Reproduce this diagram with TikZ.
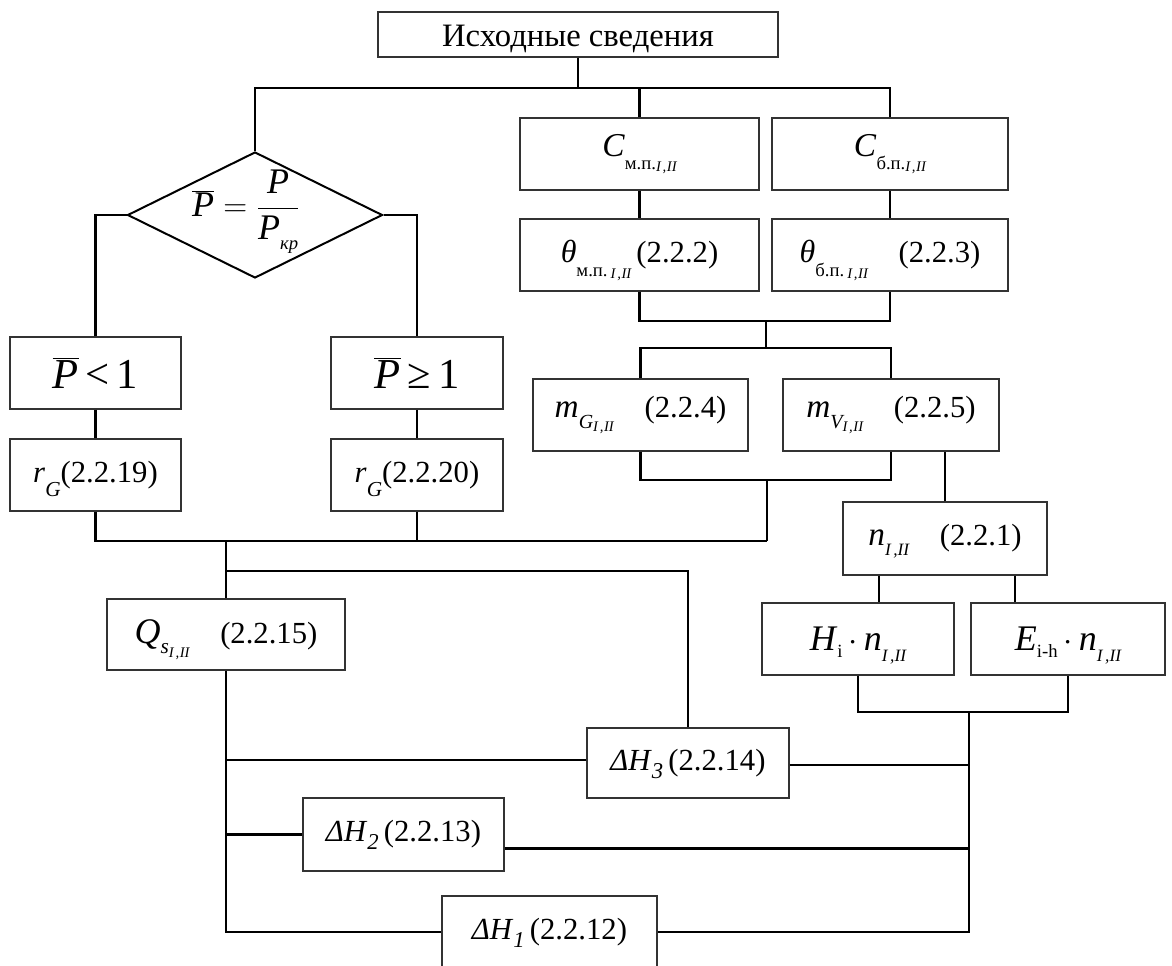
\documentclass[tikz,border=0pt]{standalone}
\usepackage{fontspec}
\setmainfont{Liberation Serif}
\usetikzlibrary{shapes.geometric,calc}
\newcommand{\ssz}{\fontsize{14}{15}\selectfont}
\newcommand{\sssz}{\fontsize{11}{12}\selectfont}
\newcommand{\III}{{\sssz\itshape I\kern0.12em,\kern0.04em II}}
\newcommand{\lowr}[2]{\raisebox{-#1}[0pt][0pt]{#2}}
\newcommand{\lowrd}[2]{\raisebox{-#1}{#2}}
\newcommand{\Pbar}{$\overline{\hbox{\itshape P}}$}
\begin{document}
\begin{tikzpicture}[x=0.75pt,y=-0.75pt,
  sz/.style 2 args={minimum width=#1*0.75pt,minimum height=#2*0.75pt},
  box/.style={draw=black!80,line width=1pt,inner sep=0pt,font=\fontsize{23}{26}\selectfont},
  ln/.style={line width=1.9pt}]
\useasboundingbox (0,0) rectangle (1172,965);

% nodes
\node[box,sz={400}{45},font=\fontsize{24.5}{27}\selectfont] (top) at (578,34.5) {\lowr{0.36em}{Исходные сведения}};
\node[draw=black,line width=1.5pt,diamond,inner sep=0pt,sz={255}{126}] (dia) at (255,215) {};
\node[inner sep=0pt,font=\fontsize{27}{30}\selectfont] (diaf) at (246,212)
  {$\overline{\hbox{\itshape P}}=\displaystyle\frac{\hbox{\itshape\ P\ }}{\hbox{\itshape P\lowrd{0.3em}{\ssz\itshape кр}}}$};
\node[box,sz={171}{72}] (Pl) at (95.5,373) {\fontsize{32}{34}\selectfont\Pbar\,<\,1};
\node[box,sz={172}{72}] (Pg) at (417,373) {\fontsize{32}{34}\selectfont\Pbar\,≥\,1};
\node[box,sz={171}{72}] (rg1) at (95.5,475) {\textit{r}\lowr{0.45em}{\fontsize{16}{17}\selectfont\itshape G}(2.2.19)};
\node[box,sz={172}{72}] (rg2) at (417,475) {\textit{r}\lowr{0.45em}{\fontsize{16}{17}\selectfont\itshape G}(2.2.20)};

\node[box,sz={239}{72}] (Cmp) at (639.5,154) {\fontsize{25}{27}\selectfont\textit{C}\lowrd{0.4em}{\ssz м.п.\lowrd{0.1em}{\III}}};
\node[box,sz={236}{72}] (Cbp) at (890,154) {\fontsize{25}{27}\selectfont\textit{C}\lowrd{0.4em}{\ssz б.п.\lowrd{0.1em}{\III}}};
\node[box,sz={239}{72}] (thmp) at (639.5,255) {{\fontsize{24}{26}\selectfont\textit{θ}}\lowr{0.45em}{\ssz м.п.\,\lowrd{0.1em}{\III}}\,(2.2.2)};
\node[box,sz={236}{72}] (thbp) at (890,255) {{\fontsize{24}{26}\selectfont\textit{θ}}\lowr{0.45em}{\ssz б.п.\,\lowrd{0.1em}{\III}}\quad(2.2.3)};

\node[box,sz={215}{72}] (mG) at (640.5,415) {{\fontsize{25}{27}\selectfont\textit{m}}\lowrd{0.35em}{\fontsize{15}{16}\selectfont\itshape G\lowrd{0.15em}{\III}}\quad(2.2.4)};
\node[box,sz={216}{72}] (mV) at (891,415) {{\fontsize{25}{27}\selectfont\textit{m}}\lowrd{0.35em}{\fontsize{15}{16}\selectfont\itshape V\lowrd{0.15em}{\III}}\quad(2.2.5)};

\node[box,sz={204}{73}] (n) at (945,538.5) {{\fontsize{25}{27}\selectfont\textit{n}}\lowr{0.3em}{\fontsize{13}{14}\selectfont\itshape I\kern0.15em,II}\quad(2.2.1)};
\node[box,sz={192}{72}] (H) at (858,639) {\fontsize{27}{29}\selectfont\textit{H}\lowr{0.2em}{\ssz i}\,$\cdot$\,\textit{n}\lowr{0.3em}{\fontsize{13}{14}\selectfont\itshape I\kern0.15em,II}};
\node[box,sz={194}{72}] (E) at (1068,639) {\fontsize{27}{29}\selectfont\textit{E}\lowr{0.2em}{\ssz i-h}\,$\cdot$\,\textit{n}\lowr{0.3em}{\fontsize{13}{14}\selectfont\itshape I\kern0.15em,II}};

\node[box,sz={238}{71}] (Q) at (226,634.5) {{\fontsize{27}{29}\selectfont\textit{Q}}\lowr{0.35em}{\fontsize{16}{17}\selectfont\itshape s\lowrd{0.15em}{\III}}\quad(2.2.15)};
\node[box,sz={202}{70}] (dH3) at (688,763) {\textit{ΔH}\lowr{0.25em}{\fontsize{17}{18}\selectfont\itshape 3}\,(2.2.14)};
\node[box,sz={201}{73}] (dH2) at (403.5,834.5) {\textit{ΔH}\lowr{0.25em}{\fontsize{17}{18}\selectfont\itshape 2}\,(2.2.13)};
\node[box,sz={215}{72}] (dH1) at (549.5,932) {\textit{ΔH}\lowr{0.25em}{\fontsize{17}{18}\selectfont\itshape 1}\,(2.2.12)};

% connectors
\coordinate (j1) at (578,88);
\draw[ln] (top.south) -- (j1);
\draw[ln] (dia.north) |- (j1);
\draw[ln] (Cbp.north) |- (j1);
\draw[ln] (Cmp.north) -- (Cmp.north |- j1);
\draw[ln] (dia.west) -| (Pl.north);
\draw[ln] (dia.east) -| (Pg.north);
\draw[ln] (Pl.south) -- (rg1.north);
\draw[ln] (Pg.south) -- (rg2.north);
\draw[ln] (Cmp.south) -- (thmp.north);
\draw[ln] (Cbp.south) -- (thbp.north);
\coordinate (j2) at (766,321);
\coordinate (j3) at (766,348);
\draw[ln] (thmp.south) |- (j2) -| (thbp.south);
\draw[ln] (j2) -- (j3);
\draw[ln] (mG.north) |- (j3) -| (mV.north);
\coordinate (j4) at (767,480);
\draw[ln] (mG.south) |- (j4) -| (mV.south);
\coordinate (j5) at (767,541);
\draw[ln] (j4) -- (j5);
\draw[ln] (rg1.south) |- (j5);
\draw[ln] (rg2.south) -- (rg2.south |- j5);
\draw[ln] (n.north) -- (n.north |- mV.south);
\draw[ln] (Q.north) -- (Q.north |- j5);
\coordinate (j7) at (226,571);
\draw[ln] (j7) -| (dH3.north);
\draw[ln] (Q.south) |- (dH1.west);
\draw[ln] (dH2.west) -- (dH2.west -| Q.south);
\coordinate (d3w) at ($(dH3.west)+(0,-3)$);
\draw[ln] (d3w) -- (d3w -| Q.south);
\coordinate (na) at ($(n.south)+(-66,0)$);
\draw[ln] (na) -- (na |- H.north);
\coordinate (nb) at ($(n.south)+(70,0)$);
\draw[ln] (nb) -- (nb |- E.north);
\coordinate (j8) at (969,712);
\draw[ln] (H.south) |- (j8) -| (E.south);
\draw[ln] (j8) |- (dH1.east);
\coordinate (d3e) at ($(dH3.east)+(0,2)$);
\draw[ln] (d3e) -- (d3e -| j8);
\coordinate (d2e) at ($(dH2.east)+(0,14)$);
\draw[ln] (d2e) -- (d2e -| j8);
\end{tikzpicture}
\end{document}
